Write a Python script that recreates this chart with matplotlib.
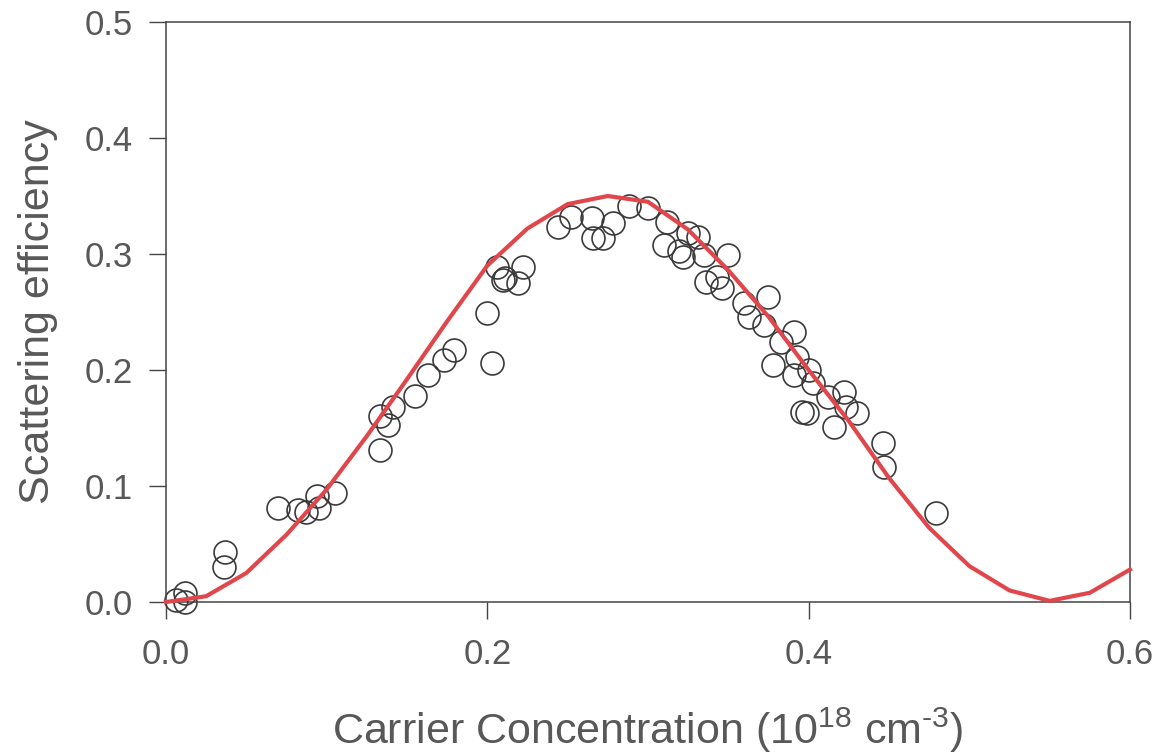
import numpy as np
import matplotlib
matplotlib.use("Agg")
import matplotlib.pyplot as plt

# measured points (carrier conc. in 1e18 cm^-3, scattering efficiency)
conc = [0.006, 0.012, 0.012, 0.037, 0.036, 0.070, 0.082, 0.087, 0.095, 0.094,
        0.105, 0.133, 0.133, 0.138, 0.141, 0.155, 0.163, 0.173, 0.179, 0.203,
        0.200, 0.206, 0.210, 0.219, 0.222, 0.211, 0.244, 0.252, 0.265, 0.266,
        0.272, 0.278, 0.288, 0.300, 0.312, 0.310, 0.319, 0.322, 0.325, 0.331,
        0.335, 0.350, 0.336, 0.343, 0.346, 0.360, 0.375, 0.363, 0.372, 0.383,
        0.391, 0.378, 0.391, 0.403, 0.393, 0.400, 0.399, 0.396, 0.412, 0.422,
        0.416, 0.430, 0.423, 0.446, 0.447, 0.479]
eff = [0.002, 0.008, 0.000, 0.043, 0.030, 0.081, 0.079, 0.078, 0.081, 0.091,
       0.094, 0.131, 0.160, 0.153, 0.168, 0.178, 0.196, 0.209, 0.217, 0.206,
       0.249, 0.289, 0.278, 0.275, 0.289, 0.279, 0.323, 0.332, 0.331, 0.314,
       0.314, 0.327, 0.341, 0.340, 0.328, 0.308, 0.303, 0.297, 0.318, 0.315,
       0.299, 0.299, 0.276, 0.280, 0.271, 0.258, 0.263, 0.246, 0.239, 0.224,
       0.233, 0.204, 0.196, 0.189, 0.211, 0.200, 0.163, 0.164, 0.177, 0.181,
       0.151, 0.163, 0.168, 0.137, 0.116, 0.077]

# fitted curve
fit_x = [0.0, 0.025, 0.05, 0.075, 0.1, 0.125, 0.15, 0.175, 0.2, 0.225, 0.25,
         0.275, 0.3, 0.325, 0.35, 0.375, 0.4, 0.425, 0.45, 0.475, 0.5, 0.525,
         0.55, 0.575, 0.6]
fit_y = [0.0, 0.005, 0.025, 0.058, 0.097, 0.143, 0.192, 0.242, 0.290, 0.322,
         0.343, 0.350, 0.345, 0.321, 0.286, 0.246, 0.200, 0.156, 0.107, 0.064,
         0.031, 0.010, 0.001, 0.008, 0.028]

plt.rcParams['font.family'] = ['Liberation Sans', 'DejaVu Sans']
plt.rcParams['mathtext.fontset'] = 'custom'
plt.rcParams['mathtext.rm'] = 'Liberation Sans'
txt = '#585858'

fig = plt.figure(figsize=(11.67, 7.55), dpi=100)
ax = fig.add_axes([0.1422, 0.2026, 0.8261, 0.7683])

ax.plot(conc, eff, 'o', ms=16.5, mfc='none', mec='#3a3a3a', mew=1.2,
        clip_on=False, zorder=2)
ax.plot(fit_x, fit_y, color='#e0474c', lw=3, zorder=3, clip_on=False)

ax.set_xlim(0, 0.6)
ax.set_ylim(0, 0.5)
ax.set_xticks([0.0, 0.2, 0.4, 0.6])
ax.set_yticks([0.0, 0.1, 0.2, 0.3, 0.4, 0.5])
ax.xaxis.set_major_formatter(matplotlib.ticker.FormatStrFormatter('%.1f'))
ax.yaxis.set_major_formatter(matplotlib.ticker.FormatStrFormatter('%.1f'))
ax.tick_params(direction='out', length=12, width=1, color='#444444',
               labelsize=25, labelcolor=txt)
ax.tick_params(axis='y', pad=12)
ax.tick_params(axis='x', pad=14)
for s in ax.spines.values():
    s.set_color('#444444')
    s.set_linewidth(1.1)

ax.set_xlabel(r'Carrier Concentration (10$^{\mathrm{18}}$ cm$^{\text{-3}}$)',
              fontsize=31, color=txt, labelpad=25)
ax.set_ylabel('Scattering efficiency', fontsize=31, color=txt, labelpad=19)

fig.savefig('out.png', dpi=100)
